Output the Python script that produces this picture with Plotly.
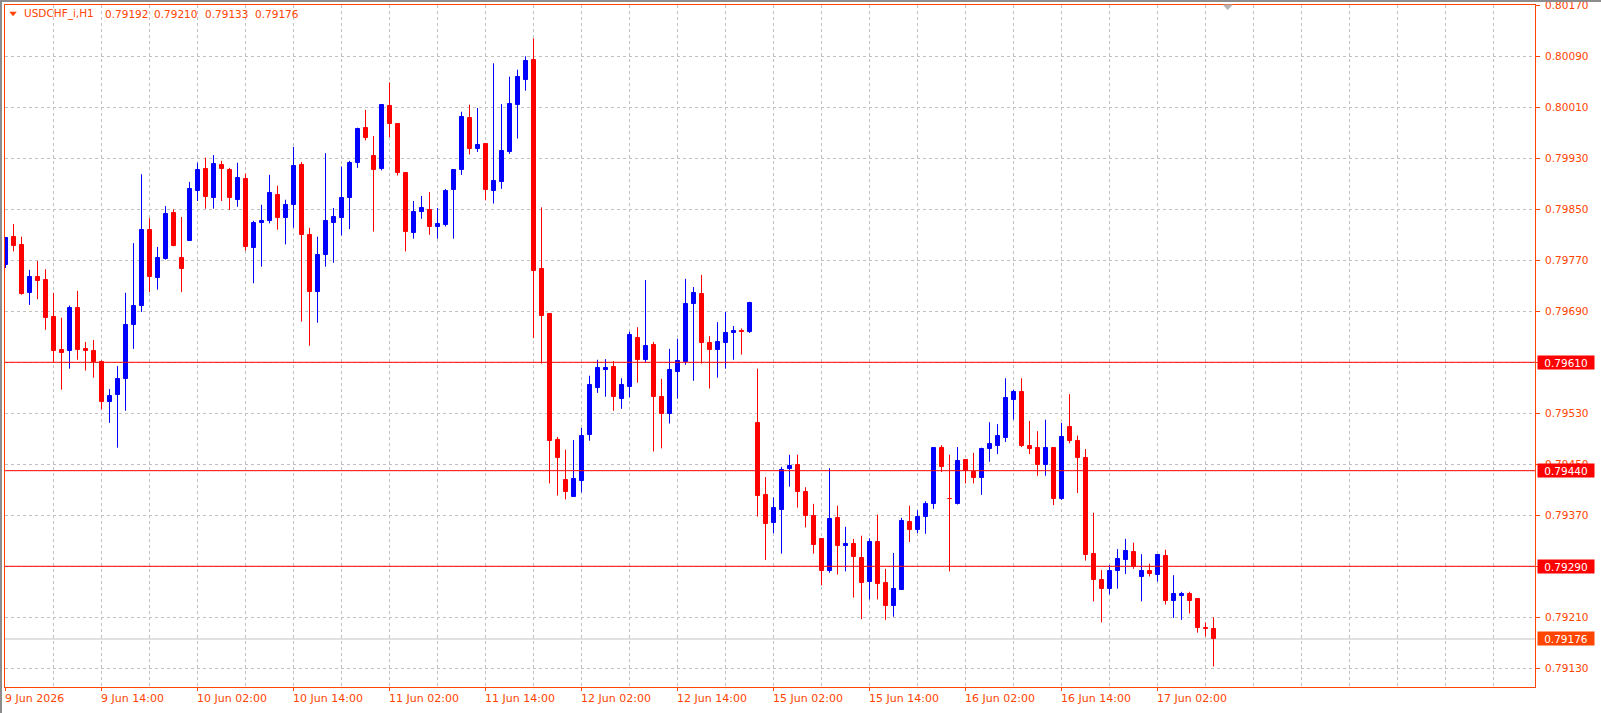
import plotly.graph_objects as go

# ---------------- data (USDCHF_i, H1) ----------------
opens = [0.79762, 0.79807, 0.79794, 0.79719, 0.79744, 0.79739, 0.79681, 0.79629, 0.79628, 0.79695,
         0.79631, 0.79628, 0.79611, 0.79548, 0.79558, 0.79584, 0.79668, 0.79699, 0.79817, 0.79743,
         0.79772, 0.79844, 0.79774, 0.79801, 0.79879, 0.79913, 0.79868, 0.79920, 0.79912, 0.79865,
         0.79898, 0.79790, 0.79828, 0.79831, 0.79872, 0.79837, 0.79856, 0.79919, 0.79810, 0.79721,
         0.79779, 0.79829, 0.79837, 0.79867, 0.79923, 0.79978, 0.79934, 0.79914, 0.80012, 0.79984,
         0.79907, 0.79813, 0.79845, 0.79849, 0.79823, 0.79826, 0.79881, 0.79911, 0.79993, 0.79944,
         0.79952, 0.79879, 0.79893, 0.79940, 0.80014, 0.80053, 0.80084, 0.79756, 0.79686, 0.79488,
         0.79425, 0.79399, 0.79424, 0.79496, 0.79570, 0.79598, 0.79603, 0.79553, 0.79572, 0.79648,
         0.79614, 0.79637, 0.79556, 0.79529, 0.79595, 0.79611, 0.79702, 0.79717, 0.79640, 0.79630,
         0.79641, 0.79656, 0.79659, 0.79658, 0.79515, 0.79402, 0.79358, 0.79379, 0.79443, 0.79449,
         0.79407, 0.79369, 0.79333, 0.79283, 0.79366, 0.79322, 0.79325, 0.79303, 0.79266, 0.79328,
         0.79264, 0.79227, 0.79253, 0.79360, 0.79347, 0.79367, 0.79387, 0.79476, 0.79396, 0.79387,
         0.79457, 0.79438, 0.79428, 0.79474, 0.79479, 0.79491, 0.79551, 0.79563, 0.79479, 0.79476,
         0.79449, 0.79476, 0.79395, 0.79508, 0.79486, 0.79460, 0.79309, 0.79269, 0.79255, 0.79282,
         0.79300, 0.79312, 0.79274, 0.79283, 0.79277, 0.79306, 0.79235, 0.79244, 0.79247, 0.79238,
         0.79194, 0.79192]
highs = [0.79806, 0.79827, 0.79807, 0.79755, 0.79769, 0.79756, 0.79719, 0.79680, 0.79699, 0.79722,
         0.79642, 0.79645, 0.79613, 0.79568, 0.79604, 0.79719, 0.79797, 0.79905, 0.79836, 0.79791,
         0.79855, 0.79850, 0.79838, 0.79893, 0.79923, 0.79931, 0.79935, 0.79926, 0.79915, 0.79923,
         0.79906, 0.79832, 0.79857, 0.79904, 0.79887, 0.79865, 0.79948, 0.79924, 0.79821, 0.79807,
         0.79938, 0.79852, 0.79917, 0.79926, 0.79978, 0.80006, 0.79965, 0.80014, 0.80049, 0.79984,
         0.79908, 0.79863, 0.79871, 0.79877, 0.79852, 0.79882, 0.79912, 0.80003, 0.80014, 0.80009,
         0.79952, 0.80079, 0.80015, 0.80058, 0.80069, 0.80090, 0.80118, 0.79853, 0.79686, 0.79493,
         0.79473, 0.79488, 0.79507, 0.79589, 0.79614, 0.79615, 0.79612, 0.79585, 0.79658, 0.79665,
         0.79739, 0.79642, 0.79584, 0.79631, 0.79647, 0.79741, 0.79728, 0.79747, 0.79651, 0.79673,
         0.79689, 0.79667, 0.79663, 0.79705, 0.79600, 0.79430, 0.79398, 0.79446, 0.79465, 0.79465,
         0.79414, 0.79388, 0.79334, 0.79444, 0.79385, 0.79352, 0.79333, 0.79338, 0.79334, 0.79371,
         0.79286, 0.79311, 0.79366, 0.79385, 0.79378, 0.79392, 0.79477, 0.79480, 0.79465, 0.79477,
         0.79458, 0.79468, 0.79476, 0.79516, 0.79513, 0.79585, 0.79567, 0.79585, 0.79518, 0.79502,
         0.79520, 0.79477, 0.79515, 0.79560, 0.79495, 0.79474, 0.79374, 0.79284, 0.79292, 0.79317,
         0.79333, 0.79327, 0.79309, 0.79294, 0.79308, 0.79316, 0.79276, 0.79250, 0.79250, 0.79238,
         0.79202, 0.79210]
lows = [0.79758, 0.79784, 0.79716, 0.79700, 0.79709, 0.79661, 0.79610, 0.79567, 0.79600, 0.79614,
        0.79597, 0.79586, 0.79536, 0.79515, 0.79476, 0.79534, 0.79631, 0.79689, 0.79720, 0.79724,
        0.79771, 0.79792, 0.79720, 0.79801, 0.79863, 0.79851, 0.79851, 0.79863, 0.79849, 0.79854,
        0.79785, 0.79734, 0.79760, 0.79828, 0.79818, 0.79795, 0.79821, 0.79674, 0.79636, 0.79672,
        0.79760, 0.79766, 0.79809, 0.79819, 0.79915, 0.79958, 0.79815, 0.79911, 0.79963, 0.79903,
        0.79784, 0.79804, 0.79835, 0.79810, 0.79804, 0.79823, 0.79804, 0.79904, 0.79936, 0.79940,
        0.79864, 0.79859, 0.79882, 0.79937, 0.79961, 0.80036, 0.79648, 0.79608, 0.79420, 0.79401,
        0.79395, 0.79399, 0.79406, 0.79487, 0.79562, 0.79556, 0.79534, 0.79537, 0.79555, 0.79578,
        0.79609, 0.79470, 0.79475, 0.79514, 0.79553, 0.79606, 0.79581, 0.79608, 0.79569, 0.79586,
        0.79600, 0.79614, 0.79622, 0.79656, 0.79368, 0.79300, 0.79342, 0.79310, 0.79415, 0.79382,
        0.79351, 0.79310, 0.79260, 0.79280, 0.79277, 0.79282, 0.79241, 0.79207, 0.79238, 0.79238,
        0.79206, 0.79211, 0.79253, 0.79328, 0.79342, 0.79341, 0.79380, 0.79438, 0.79282, 0.79387,
        0.79420, 0.79420, 0.79402, 0.79454, 0.79466, 0.79485, 0.79520, 0.79477, 0.79466, 0.79432,
        0.79432, 0.79386, 0.79394, 0.79483, 0.79405, 0.79299, 0.79235, 0.79202, 0.79246, 0.79255,
        0.79278, 0.79286, 0.79235, 0.79274, 0.79266, 0.79230, 0.79209, 0.79206, 0.79216, 0.79186,
        0.79180, 0.79133]
closes = [0.79805, 0.79793, 0.79717, 0.79744, 0.79738, 0.79680, 0.79628, 0.79625, 0.79695, 0.79630,
          0.79627, 0.79610, 0.79548, 0.79557, 0.79584, 0.79668, 0.79698, 0.79817, 0.79744, 0.79774,
          0.79843, 0.79793, 0.79757, 0.79882, 0.79912, 0.79870, 0.79921, 0.79914, 0.79867, 0.79899,
          0.79791, 0.79829, 0.79832, 0.79876, 0.79837, 0.79857, 0.79918, 0.79809, 0.79721, 0.79778,
          0.79832, 0.79838, 0.79868, 0.79923, 0.79976, 0.79962, 0.79912, 0.80014, 0.79984, 0.79907,
          0.79815, 0.79846, 0.79852, 0.79823, 0.79827, 0.79879, 0.79912, 0.79995, 0.79945, 0.79951,
          0.79881, 0.79894, 0.79941, 0.80015, 0.80058, 0.80083, 0.79754, 0.79683, 0.79487, 0.79460,
          0.79406, 0.79427, 0.79494, 0.79574, 0.79601, 0.79601, 0.79556, 0.79574, 0.79653, 0.79614,
          0.79636, 0.79555, 0.79529, 0.79598, 0.79612, 0.79702, 0.79719, 0.79641, 0.79630, 0.79642,
          0.79656, 0.79659, 0.79657, 0.79703, 0.79401, 0.79357, 0.79381, 0.79441, 0.79447, 0.79406,
          0.79369, 0.79324, 0.79282, 0.79364, 0.79322, 0.79325, 0.79304, 0.79264, 0.79328, 0.79263,
          0.79227, 0.79254, 0.79361, 0.79347, 0.79367, 0.79388, 0.79476, 0.79446, 0.79395, 0.79455,
          0.79439, 0.79428, 0.79474, 0.79482, 0.79494, 0.79554, 0.79563, 0.79479, 0.79474, 0.79449,
          0.79476, 0.79395, 0.79493, 0.79486, 0.79460, 0.79307, 0.79269, 0.79255, 0.79283, 0.79301,
          0.79314, 0.79289, 0.79283, 0.79278, 0.79308, 0.79236, 0.79247, 0.79247, 0.79236, 0.79194,
          0.79192, 0.79176]

time_tick_bars = [0, 12, 24, 36, 48, 60, 72, 84, 96, 108, 120, 132, 144]
time_tick_labels = ["9 Jun 2026", "9 Jun 14:00", "10 Jun 02:00", "10 Jun 14:00", "11 Jun 02:00",
                    "11 Jun 14:00", "12 Jun 02:00", "12 Jun 14:00", "15 Jun 02:00", "15 Jun 14:00",
                    "16 Jun 02:00", "16 Jun 14:00", "17 Jun 02:00"]

price_ticks = [0.79130, 0.79210, 0.79290, 0.79370, 0.79450, 0.79530, 0.79610,
               0.79690, 0.79770, 0.79850, 0.79930, 0.80010, 0.80090, 0.80170]
level_lines = [0.79610, 0.79440, 0.79290]
symbol_title = "USDCHF_i,H1"

# ---------------- styling ----------------
FG = "#FF4500"
BULL = "#0000FF"
BEAR = "#FF0000"
GRID = "#C0C0C0"
FONT = "DejaVu Sans"

W, H = 1601, 713
ML, MR, MT, MB = 5, 66, 5, 26
PW, PH = W - ML - MR, H - MT - MB
X0 = -0.0625
XR = [X0, X0 + PW / 8.0]
YR = [0.7910067, 0.8017047]


def px(X):
    return (X - ML) / PW


def py(Y):
    return (H - MB - Y) / PH


n = len(opens)
bars = list(range(n))
up = [i for i in bars if closes[i] >= opens[i]]
dn = [i for i in bars if closes[i] < opens[i]]

fig = go.Figure()


def wick_trace(ids, color):
    xs, ys = [], []
    for i in ids:
        xs += [i, i, None]
        ys += [lows[i], highs[i], None]
    return go.Scatter(x=xs, y=ys, mode="lines", line=dict(color=color, width=1),
                      hoverinfo="skip", showlegend=False)


def body_trace(ids, color):
    return go.Bar(x=ids,
                  y=[abs(closes[i] - opens[i]) for i in ids],
                  base=[min(opens[i], closes[i]) for i in ids],
                  width=0.5,
                  marker=dict(color=color, line=dict(color=color, width=1)),
                  hoverinfo="skip", showlegend=False)


fig.add_trace(body_trace(up, BULL))
fig.add_trace(body_trace(dn, BEAR))
fig.add_trace(wick_trace(up, BULL))
fig.add_trace(wick_trace(dn, BEAR))

shapes = []
# current price line (grey)
last_close = closes[-1]
shapes.append(dict(type="line", xref="paper", yref="y", x0=0, x1=1, y0=last_close, y1=last_close,
                   line=dict(color=GRID, width=1), layer="below"))
# horizontal level lines
for lv in level_lines:
    shapes.append(dict(type="line", xref="paper", yref="y", x0=0, x1=1, y0=lv, y1=lv,
                       line=dict(color=BEAR, width=1), layer="above"))
# time axis ticks
for b in time_tick_bars:
    shapes.append(dict(type="line", xref="x", yref="paper", x0=b, x1=b, y0=0, y1=-4.0 / PH,
                       line=dict(color=FG, width=1)))
# header triangle
shapes.append(dict(type="path", xref="paper", yref="paper",
                   path=f"M {px(9.3)},{py(11.8)} L {px(16.8)},{py(11.8)} L {px(13.05)},{py(16.3)} Z",
                   fillcolor=FG, line=dict(width=0)))
# chart shift marker (grey triangle at top)
shapes.append(dict(type="path", xref="paper", yref="paper",
                   path=f"M {px(1222.5)},{py(4.5)} L {px(1233)},{py(4.5)} L {px(1227.7)},{py(10)} Z",
                   fillcolor="#B4B4B4", line=dict(width=0)))
# window frame (grey) at left and top
shapes.append(dict(type="line", xref="paper", yref="paper", x0=px(1), x1=px(1), y0=py(0), y1=py(H),
                   line=dict(color="#8C8C8C", width=2)))
shapes.append(dict(type="line", xref="paper", yref="paper", x0=px(0), x1=px(W), y0=py(1), y1=py(1),
                   line=dict(color="#8C8C8C", width=2)))

annotations = []
# header
annotations.append(dict(xref="paper", yref="paper", x=px(23), y=py(13.8), xanchor="left", yanchor="middle",
                        text=symbol_title, showarrow=False, borderpad=0,
                        font=dict(family=FONT, size=10.5, color=FG)))
for xv, val in zip([104, 152.5, 203.5, 253.5], [opens[-1], highs[-1], lows[-1], closes[-1]]):
    annotations.append(dict(xref="paper", yref="paper", x=px(xv), y=py(13.8), xanchor="left",
                            yanchor="middle", text=f"{val:.5f}", showarrow=False, borderpad=0,
                            font=dict(family=FONT, size=10.5, color=FG)))
# time labels
for b, lab in zip(time_tick_bars, time_tick_labels):
    annotations.append(dict(xref="x", yref="paper", x=b, y=0, xanchor="left", yanchor="middle",
                            xshift=-1.5, yshift=-11, text=lab, showarrow=False, borderpad=0,
                            font=dict(family=FONT, size=11, color=FG)))
# price boxes
for lv, col in [(level_lines[0], BEAR), (level_lines[1], BEAR), (level_lines[2], BEAR), (last_close, FG)]:
    annotations.append(dict(xref="paper", yref="y", x=1, y=lv, xanchor="left", yanchor="middle",
                            xshift=2, text=f"{lv:.5f}", showarrow=False, bgcolor=col,
                            width=54, height=11, borderpad=1, align="center",
                            font=dict(family=FONT, size=10.5, color="#FFFFFF")))

fig.update_layout(
    width=W, height=H,
    margin=dict(l=ML, r=MR, t=MT, b=MB, pad=0, autoexpand=False),
    paper_bgcolor="#FFFFFF", plot_bgcolor="#FFFFFF",
    barmode="overlay", bargap=0, showlegend=False,
    shapes=shapes, annotations=annotations,
    xaxis=dict(range=XR, tickmode="array", tickvals=list(range(6, 192, 6)),
               showticklabels=False, ticks="", showgrid=True, gridcolor=GRID, griddash="3px,3px",
               gridwidth=1, zeroline=False, showline=True, linecolor=FG, linewidth=1, mirror=True,
               fixedrange=True, automargin=False),
    yaxis=dict(range=YR, side="right", tickmode="array", tickvals=price_ticks,
               ticktext=[f"{v:.5f}" for v in price_ticks], ticks="outside", ticklen=4, tickcolor=FG,
               ticklabelstandoff=3, ticklabeloverflow="allow", automargin=False,
               tickfont=dict(family=FONT, size=10.5, color=FG), showgrid=True, gridcolor=GRID,
               griddash="3px,3px", gridwidth=1, zeroline=False, showline=True, linecolor=FG,
               linewidth=1, mirror=True, fixedrange=True),
    hovermode=False,
)

fig.write_html("out.html", config={"displayModeBar": False})
